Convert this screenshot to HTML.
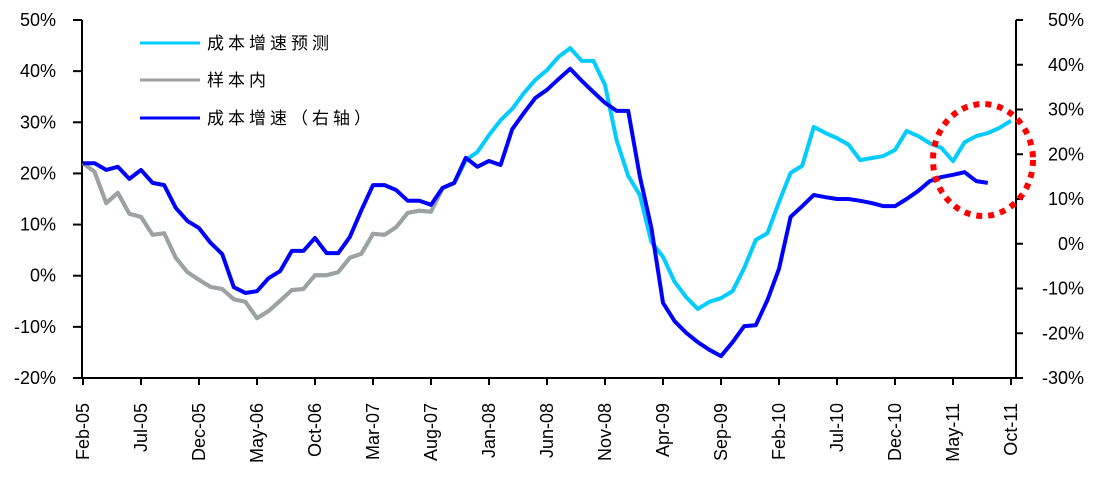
<!DOCTYPE html>
<html><head><meta charset="utf-8"><style>
body{margin:0;background:#fff;}
svg text{font-family:"Liberation Sans","Noto Sans CJK SC",sans-serif;}
</style></head><body>
<svg id="chart" width="1104" height="483" xmlns="http://www.w3.org/2000/svg">
<g id="axes"></g><g id="series"></g><g id="legend"></g>
<ellipse cx="983" cy="160" rx="50" ry="56" fill="none" stroke="#ff0000" stroke-width="6" stroke-dasharray="6 6"/>
</svg>
<script>
const xLabels=["Feb-05","Jul-05","Dec-05","May-06","Oct-06","Mar-07","Aug-07","Jan-08","Jun-08","Nov-08","Apr-09","Sep-09","Feb-10","Jul-10","Dec-10","May-11","Oct-11"];
const leftTicks=[50,40,30,20,10,0,-10,-20];
const rightTicks=[50,40,30,20,10,0,-10,-20,-30];
const forecast=[22.0,20.3,14.2,16.2,12.1,11.5,8.0,8.3,3.5,0.7,-0.8,-2.2,-2.6,-4.6,-5.1,-8.3,-6.9,-4.9,-2.8,-2.6,0.1,0.1,0.7,3.5,4.3,8.2,8.0,9.5,12.3,12.7,12.5,17.1,18.1,22.6,24.2,27.5,30.4,32.6,35.7,38.3,40.2,42.8,44.5,42.0,42.0,37.3,26.5,19.5,15.8,6.6,3.7,-1.2,-4.2,-6.5,-5.1,-4.4,-3.0,1.5,7.0,8.3,14.4,20.1,21.5,29.1,27.9,26.9,25.6,22.6,23.0,23.4,24.6,28.3,27.3,25.9,25.0,22.4,26.1,27.3,27.9,28.9,30.3];
const inSample=[22.0,20.3,14.2,16.2,12.1,11.5,8.0,8.3,3.5,0.7,-0.8,-2.2,-2.6,-4.6,-5.1,-8.3,-6.9,-4.9,-2.8,-2.6,0.1,0.1,0.7,3.5,4.3,8.2,8.0,9.5,12.3,12.7,12.5,17.1,18.1];
const actual=[18.0,18.0,16.5,17.2,14.5,16.5,13.6,13.1,8.0,5.1,3.5,0.2,-2.3,-9.7,-11.0,-10.6,-7.7,-6.1,-1.6,-1.6,1.3,-2.1,-2.1,1.5,7.5,13.1,13.1,12.0,9.6,9.6,8.7,12.5,13.6,19.2,17.2,18.5,17.6,25.6,29.2,32.6,34.4,36.8,39.1,36.4,33.9,31.5,29.7,29.7,15.1,3.5,-13.2,-17.3,-19.9,-22.0,-23.7,-25.1,-22.0,-18.4,-18.2,-12.6,-5.6,6.0,8.4,10.9,10.4,10.0,10.0,9.6,9.1,8.4,8.4,10.0,11.8,14.0,14.9,15.4,16.0,14.0,13.6];
const NS="http://www.w3.org/2000/svg";
const X0=83,DX=11.6,TOP=20,BOT=378,LX=82,RX=1016;
const x=i=>X0+i*DX;
const yL=v=>TOP+(50-v)*(BOT-TOP)/70;
const yR=v=>TOP+(50-v)*(BOT-TOP)/80;
function mk(tag,attrs,parent){const e=document.createElementNS(NS,tag);for(const k in attrs)e.setAttribute(k,attrs[k]);parent.appendChild(e);return e;}
const axes=document.getElementById('axes'),ser=document.getElementById('series'),leg=document.getElementById('legend');
let e;
e=mk('line',{x1:LX,y1:TOP,x2:LX,y2:BOT,stroke:'#000','stroke-width':2},axes);


e=mk('line',{x1:RX,y1:TOP,x2:RX,y2:BOT,stroke:'#000','stroke-width':2},axes);


e=mk('line',{x1:LX,y1:BOT,x2:RX,y2:BOT,stroke:'#000','stroke-width':2},axes);


leftTicks.forEach(v=>{
 mk('line',{x1:LX-9,y1:yL(v),x2:LX,y2:yL(v),stroke:'#000','stroke-width':2},axes);
 const t=mk('text',{x:56,y:yL(v)+6,'text-anchor':'end','font-size':18},axes);t.textContent=v+'%';
 
 
});
rightTicks.forEach(v=>{
 mk('line',{x1:RX,y1:yR(v),x2:RX+7,y2:yR(v),stroke:'#000','stroke-width':2},axes);
 const t=mk('text',{x:1084,y:yR(v)+6,'text-anchor':'end','font-size':18},axes);t.textContent=v+'%';
 
 
});
xLabels.forEach((s,k)=>{
 const xx=x(k*5);
 mk('line',{x1:xx,y1:BOT,x2:xx,y2:BOT+7,stroke:'#000','stroke-width':2},axes);
 const t=mk('text',{x:0,y:0,'text-anchor':'end','font-size':18,transform:`translate(${xx+6},403) rotate(-90)`},axes);t.textContent=s;
 
 
});
function line(arr,f,color,name){
 const p=mk('polyline',{points:arr.map((v,i)=>x(i)+','+f(v)).join(' '),fill:'none',stroke:color,'stroke-width':4,'stroke-linejoin':'round'},ser);
 
 
}
line(forecast,yL,'#00ccff','forecast-line');
line(inSample,yL,'#a0a0a0','in-sample-line');
line(actual,yR,'#0000ff','actual-line');
[['#00ccff','成本增速预测',43],['#a0a0a0','样本内',80],['#0000ff','成本增速（右轴）',118]].forEach(([c,s,y])=>{
 const g=mk('g',{},leg);
 
 
 mk('line',{x1:140,y1:y,x2:200,y2:y,stroke:c,'stroke-width':3},g);
 const t=mk('text',{x:207,y:y+6,'font-size':17,'letter-spacing':4,style:'font-family:"Noto Sans CJK SC",sans-serif'},g);t.textContent=s;
});
</script>
</body></html>
